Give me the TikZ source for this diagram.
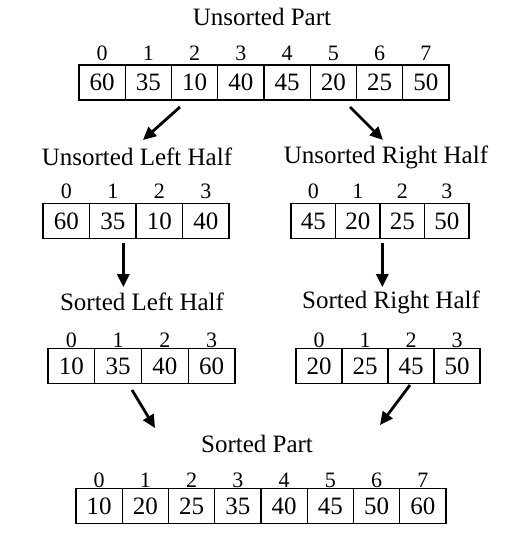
\documentclass[tikz,border=0pt]{standalone}
\usepackage{fontspec}
\setmainfont{Liberation Serif}
\usetikzlibrary{arrows.meta,positioning}
\tikzset{
  cellbox/.style={draw=black,line width=1.3pt,minimum height=35pt,inner sep=0pt,
    font=\fontsize{25}{27}\selectfont},
  indexlabel/.style={inner sep=0pt,font=\fontsize{22}{24}\selectfont},
  partlabel/.style={inner sep=0pt,font=\fontsize{25}{28}\selectfont},
  splitarrow/.style={-{Triangle[length=13pt,width=12pt]},line width=2.8pt}
}
\begin{document}
\begin{tikzpicture}[x=1pt,y=-1pt]
  \useasboundingbox (0,0) rectangle (514,558);
  % labels of the parts
  \node[partlabel] (unsorted) at (262,17) {Unsorted Part};
  \node[partlabel] (uleft) at (137,157) {Unsorted Left Half};
  \node[partlabel] (uright) at (386,157) {Unsorted Right Half};
  \node[partlabel] (sleft) at (142,302) {Sorted Left Half};
  \node[partlabel] (sright) at (391,302) {Sorted Right Half};
  \node[partlabel] (sorted) at (257,444) {Sorted Part};
  % whole array, unsorted
  \foreach \i/\v in {0/60,1/35,2/10,3/40,4/45,5/20,6/25,7/50} {
    \node[cellbox,minimum width=46.25pt] (top\i) at ({79+46.25*(\i+0.5)},82.5) {\v};
    \node[indexlabel] (topidx\i) at ({79+46.25*(\i+0.5)},53) {\i};
  }
  % the two halves
  \foreach \i/\v in {0/60,1/35,2/10,3/40} {
    \node[cellbox,minimum width=46.5pt] (ul\i) at ({43+46.5*(\i+0.5)},221) {\v};
    \node[indexlabel] (ulidx\i) at ({43+46.5*(\i+0.5)},191) {\i};
  }
  \foreach \i/\v in {0/45,1/20,2/25,3/50} {
    \node[cellbox,minimum width=44.5pt] (ur\i) at ({291+44.5*(\i+0.5)},221) {\v};
    \node[indexlabel] (uridx\i) at ({291+44.5*(\i+0.5)},191) {\i};
  }
  \foreach \i/\v in {0/10,1/35,2/40,3/60} {
    \node[cellbox,minimum width=46.75pt] (sl\i) at ({48+46.75*(\i+0.5)},366) {\v};
    \node[indexlabel] (slidx\i) at ({48+46.75*(\i+0.5)},340) {\i};
  }
  \foreach \i/\v in {0/20,1/25,2/45,3/50} {
    \node[cellbox,minimum width=46pt] (sr\i) at ({296+46*(\i+0.5)},366) {\v};
    \node[indexlabel] (sridx\i) at ({296+46*(\i+0.5)},340) {\i};
  }
  % whole array, sorted
  \foreach \i/\v in {0/10,1/20,2/25,3/35,4/40,5/45,6/50,7/60} {
    \node[cellbox,minimum width=46.25pt] (bot\i) at ({76+46.25*(\i+0.5)},506) {\v};
    \node[indexlabel] (botidx\i) at ({76+46.25*(\i+0.5)},480) {\i};
  }
  % arrows
  \coordinate (splitl) at (180,107);
  \coordinate (splitr) at (350,107);
  \coordinate (mergel) at (132,390);
  \coordinate (merger) at (410,385);
  \coordinate (mergelend) at (155,428);
  \coordinate (mergerend) at (380,425);
  \draw[splitarrow] (splitl) -- (143,140);
  \draw[splitarrow] (splitr) -- (383,140);
  \draw[splitarrow] (ul2.south west) ++(-12,4) -- ++(0,44);
  \draw[splitarrow] (ur2.south west) ++(3,4) -- ++(0,44);
  \draw[splitarrow] (mergel) -- (mergelend);
  \draw[splitarrow] (merger) -- (mergerend);
\end{tikzpicture}
\end{document}
